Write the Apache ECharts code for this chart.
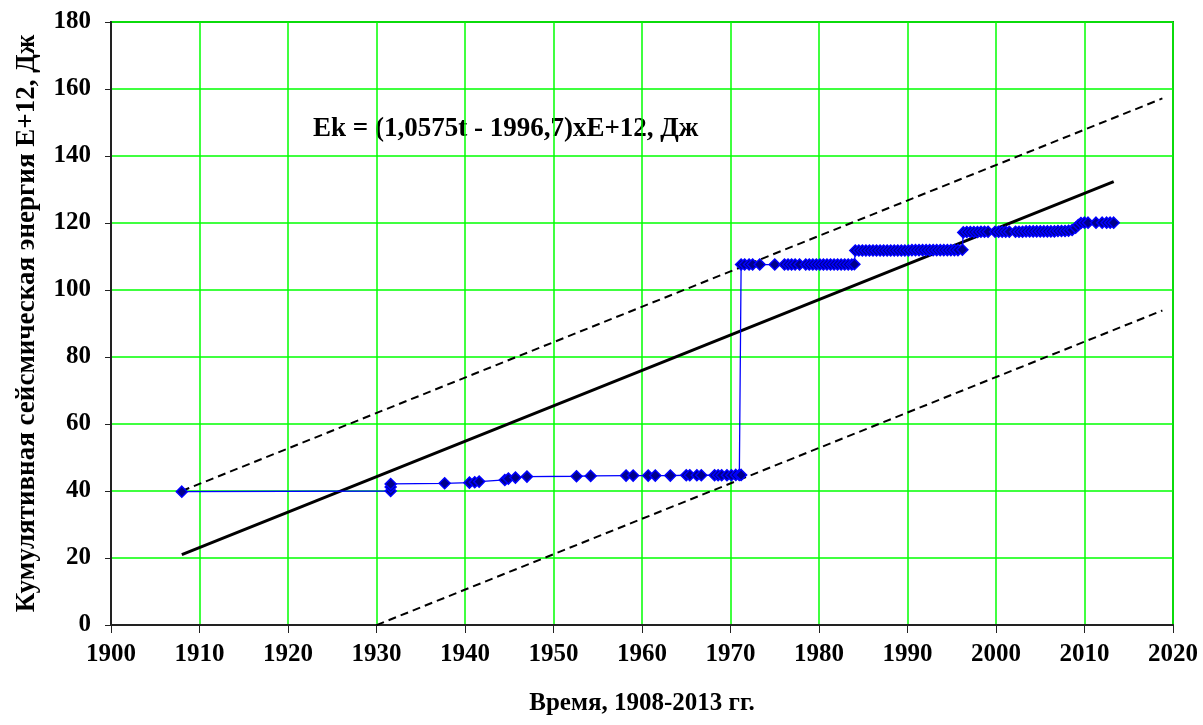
<!DOCTYPE html>
<html>
<head>
<meta charset="utf-8">
<script src="https://cdn.jsdelivr.net/npm/echarts@6/dist/echarts.min.js"></script>
<style>
html,body{margin:0;padding:0;background:#fff;}
#chart{width:1203px;height:725px;}
</style>
</head>
<body>
<div id="chart"></div>
<script>
// Event times (years) and cumulative seismic energy (E+12 J)
const eventYears = [
  1908.0, 1931.6, 1931.6, 1931.6, 1937.7, 1940.5, 1941.1, 1941.6,
  1944.5, 1944.9, 1945.7, 1947.0, 1952.6, 1954.2, 1958.2, 1959.0,
  1960.7, 1961.5, 1963.2, 1965.0, 1965.4, 1966.2, 1966.7, 1968.2,
  1968.6, 1969.0, 1969.6, 1970.1, 1970.6, 1971.0, 1971.2,
  1971.2, 1971.6, 1972.1, 1972.5, 1973.3, 1975.0, 1976.1, 1976.5,
  1976.9, 1977.3, 1977.8, 1978.5, 1978.9, 1979.3, 1979.7, 1980.1,
  1980.5, 1980.9, 1981.3, 1981.7, 1982.1, 1982.5, 1982.9, 1983.3,
  1983.7, 1984.0,
  1984.1, 1984.5, 1984.9, 1985.3, 1985.7, 1986.1, 1986.5, 1986.9,
  1987.3, 1987.7, 1988.1, 1988.5, 1988.9, 1989.3, 1989.7, 1990.1,
  1990.5, 1990.9, 1991.3, 1991.7, 1992.1, 1992.5, 1992.9, 1993.3,
  1993.7, 1994.1, 1994.5, 1994.9, 1995.3, 1995.7, 1996.2,
  1996.3, 1996.7, 1997.1, 1997.5, 1997.9, 1998.3, 1998.7, 1999.1,
  1999.9, 2000.3, 2000.7, 2001.1, 2001.5, 2002.2, 2002.6, 2003.0,
  2003.4, 2003.8, 2004.2, 2004.6, 2005.0, 2005.4, 2005.8, 2006.2,
  2006.6, 2007.0, 2007.4, 2007.8, 2008.2, 2008.6,
  2009.0, 2009.3, 2009.6, 2010.0, 2010.4, 2011.3, 2012.0, 2012.5,
  2012.9, 2013.3
];
const cumEnergy = [
  39.8, 40.0, 41.2, 42.1, 42.3, 42.5, 42.6, 42.8,
  43.3, 43.7, 44.0, 44.3, 44.4, 44.5, 44.6, 44.6,
  44.6, 44.6, 44.6, 44.7, 44.7, 44.7, 44.7, 44.7,
  44.7, 44.7, 44.7, 44.7, 44.8, 44.8, 44.8,
  107.6, 107.6, 107.6, 107.6, 107.6, 107.6, 107.6, 107.6,
  107.6, 107.6, 107.6, 107.6, 107.6, 107.6, 107.6, 107.6,
  107.6, 107.6, 107.6, 107.6, 107.6, 107.6, 107.6, 107.6,
  107.6, 107.7,
  111.8, 111.8, 111.8, 111.8, 111.8, 111.8, 111.8, 111.8,
  111.8, 111.8, 111.8, 111.8, 111.8, 111.8, 111.8, 111.8,
  111.9, 111.9, 111.9, 111.9, 111.9, 111.9, 111.9, 111.9,
  111.9, 111.9, 111.9, 111.9, 111.9, 111.9, 112.0,
  117.2, 117.3, 117.3, 117.3, 117.3, 117.4, 117.4, 117.4,
  117.4, 117.4, 117.4, 117.4, 117.4, 117.4, 117.4, 117.4,
  117.5, 117.5, 117.5, 117.5, 117.5, 117.5, 117.5, 117.5,
  117.5, 117.6, 117.6, 117.6, 117.7, 117.9,
  118.6, 119.4, 120.0, 120.1, 120.1, 120.1, 120.1, 120.1,
  120.1, 120.1
];
// Regression Ek = (1.0575 t - 1996.7) E+12 J and its envelope
const regSlope = 1.0575;
const regIntercept = -1996.7;
const trendYears = [1908.0, 2013.3];
const upperYears = [1908.0, 2018.8];
const upperOffset = 19.0;
const lowerYears = [1930.0, 2018.8];
const lowerOffset = -44.3;
const xTicks = { min: 1900, max: 2020, step: 10 };
const yTicks = { min: 0, max: 180, step: 20 };

const reg = (t, off) => +(regSlope * t + regIntercept + off).toFixed(3);
const mainData = eventYears.map((y, i) => [y, cumEnergy[i]]);
const trendData = trendYears.map(t => [t, reg(t, 0)]);
const upperData = upperYears.map(t => [t, reg(t, upperOffset)]);
const lowerData = lowerYears.map(t => [t, reg(t, lowerOffset)]);

const FONT = '"Liberation Serif", "DejaVu Serif", serif';
const chart = echarts.init(document.getElementById('chart'), null, {renderer: 'canvas'});
chart.setOption({
  animation: false,
  backgroundColor: '#ffffff',
  grid: {
    left: 111, right: 30, top: 22, bottom: 100,
    show: true, borderColor: '#2f6f2f', borderWidth: 2, backgroundColor: 'transparent'
  },
  xAxis: {
    type: 'value', min: xTicks.min, max: xTicks.max, interval: xTicks.step,
    name: 'Время, 1908-2013 гг.', nameLocation: 'middle', nameGap: 66,
    nameTextStyle: {fontFamily: FONT, fontWeight: 'bold', fontSize: 25, color: '#000'},
    axisLine: {show: true, onZero: false, lineStyle: {color: '#222', width: 2}},
    axisTick: {show: true, inside: false, length: 8, lineStyle: {color: '#222', width: 1}},
    axisLabel: {fontFamily: FONT, fontWeight: 'bold', fontSize: 25, color: '#000', margin: 17,
      formatter: v => String(v)},
    splitLine: {show: true, lineStyle: {color: '#00ff00', width: 1.5}}
  },
  yAxis: {
    type: 'value', min: yTicks.min, max: yTicks.max, interval: yTicks.step,
    name: 'Кумулятивная сейсмическая энергия E+12, Дж', nameLocation: 'middle', nameGap: 70,
    nameRotate: 90,
    nameTextStyle: {fontFamily: FONT, fontWeight: 'bold', fontSize: 27, color: '#000'},
    axisLine: {show: true, onZero: false, lineStyle: {color: '#222', width: 2}},
    axisTick: {show: true, inside: false, length: 6, lineStyle: {color: '#222', width: 1}},
    axisLabel: {fontFamily: FONT, fontWeight: 'bold', fontSize: 25, color: '#000', margin: 20,
      formatter: v => String(v)},
    splitLine: {show: true, lineStyle: {color: '#00ff00', width: 1.5}}
  },
  graphic: [{
    type: 'text', left: 313, top: 116,
    style: {text: 'Ek = (1,0575t - 1996,7)xE+12, Дж', fontFamily: FONT, fontWeight: 'bold', fontSize: 27, fill: '#000'}
  }],
  series: [
    {
      type: 'line', data: upperData, symbol: 'none', silent: true,
      lineStyle: {color: '#000', width: 2, type: [8, 5]}, z: 2
    },
    {
      type: 'line', data: lowerData, symbol: 'none', silent: true,
      lineStyle: {color: '#000', width: 2, type: [8, 5]}, z: 2
    },
    {
      type: 'line', data: trendData, symbol: 'none', silent: true,
      lineStyle: {color: '#000', width: 3}, z: 3
    },
    {
      type: 'line', data: mainData, symbol: 'diamond', symbolSize: 11, showAllSymbol: true,
      lineStyle: {color: '#0000ff', width: 1.3},
      itemStyle: {color: '#00008b', borderColor: '#0000ff', borderWidth: 1.5}, z: 4
    }
  ]
});
</script>
</body>
</html>
